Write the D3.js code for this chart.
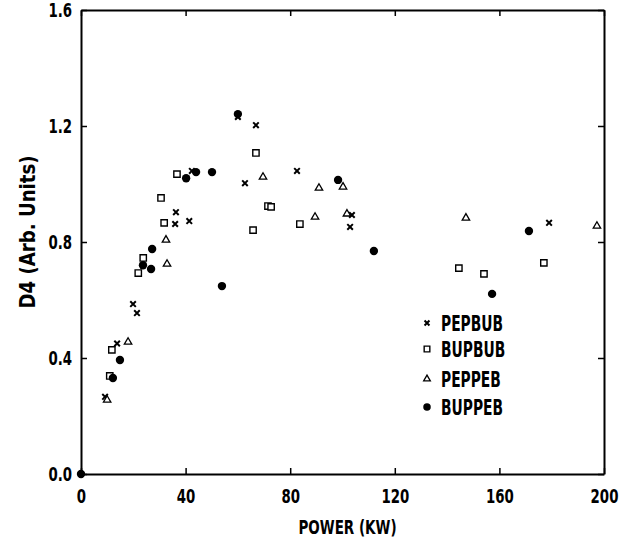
<!DOCTYPE html>
<html>
<head>
<meta charset="utf-8">
<script src="https://cdn.jsdelivr.net/npm/d3@7"></script>
<style>
  body { margin: 0; background: #fff; }
  text { font-family: "DejaVu Sans Condensed", "DejaVu Sans", sans-serif; font-stretch: condensed; font-weight: bold; fill: #000; }
</style>
</head>
<body>
<div id="chart"></div>
<script>
// data: [power (KW), D4]
var pepbub = [[9.2,0.266],[13.8,0.45],[19.9,0.586],[21.4,0.555],[36,0.862],[36.3,0.903],
  [41.4,0.872],[42.4,1.045],[60,1.231],[62.7,1.003],[66.9,1.203],[82.6,1.045],
  [102.9,0.852],[103.6,0.893],[179,0.866]];
var bupbub = [[11,0.338],[11.8,0.428],[21.9,0.693],[23.8,0.745],[30.6,0.952],[31.8,0.866],
  [36.7,1.034],[65.8,0.841],[66.9,1.107],[71.5,0.924],[72.7,0.921],[83.7,0.862],
  [144.5,0.71],[154.1,0.69],[177,0.728]];
var peppeb = [[10,0.255],[18,0.455],[32.5,0.807],[32.9,0.724],[69.6,1.024],[89.5,0.886],
  [91,0.986],[100.2,0.99],[101.7,0.897],[147.2,0.883],[197.3,0.855]];
var buppeb = [[0,0],[12.2,0.331],[14.9,0.393],[23.7,0.72],[26.8,0.707],[27.2,0.776],
  [40.2,1.02],[44,1.041],[50.1,1.041],[53.9,0.648],[60,1.241],[98.3,1.014],
  [112,0.769],[157.2,0.621],[171.3,0.838]];

var xTicks = [0, 40, 80, 120, 160, 200];
var yTicks = [0, 0.4, 0.8, 1.2, 1.6];
var seriesNames = ['PEPBUB', 'BUPBUB', 'PEPPEB', 'BUPPEB'];

var margin = {top: 10, right: 18, bottom: 67, left: 81},
    width = 622 - margin.left - margin.right,
    height = 541 - margin.top - margin.bottom;

var x = d3.scaleLinear().domain([0, 200]).range([0, width]);
var y = d3.scaleLinear().domain([0, 1.6]).range([height, 0]);

var svg = d3.select('#chart')
  .append('svg')
    .attr('width', 622)
    .attr('height', 541)
  .append('g')
    .attr('transform', 'translate(' + margin.left + ',' + margin.top + ')');

// marker style per series
var styles = [
  {type: d3.symbolTimes, size: 22, fill: 'none', stroke: '#000', sw: 2},
  {type: d3.symbolSquare, size: 40, fill: '#fff', stroke: '#000', sw: 1.4},
  {type: d3.symbolTriangle, size: 24, fill: '#fff', stroke: '#000', sw: 1.3},
  {type: d3.symbolCircle, size: 55, fill: '#000', stroke: 'none', sw: 0}
];
var allSeries = [pepbub, bupbub, peppeb, buppeb];

// squeeze a text horizontally around its anchor point, to mimic the narrow bold lettering
function narrow(sel, k) {
  sel.each(function() {
    var t = d3.select(this);
    var tx = +t.attr('x') || 0;
    t.attr('transform', (t.attr('transform') || '') + ' translate(' + tx + ',0) scale(' + k + ',1) translate(' + (-tx) + ',0)');
  });
}

// axes: ticks point inward on all four sides
function styleAxis(g) {
  g.select('.domain').attr('stroke-width', 2);
  g.selectAll('.tick line').attr('stroke-width', 1.5);
  g.selectAll('.tick text').style('font-size', '19px')
    .style('font-family', '"DejaVu Sans", sans-serif')
    .style('font-weight', 'bold')
    .call(narrow, 0.78);
}

svg.append('g')
  .attr('transform', 'translate(0,' + height + ')')
  .call(d3.axisBottom(x).tickValues(xTicks).tickSizeInner(-6).tickSizeOuter(0).tickPadding(16)
    .tickFormat(d3.format('d')))
  .call(styleAxis);

svg.append('g')
  .call(d3.axisTop(x).tickValues(xTicks).tickSizeInner(-6).tickSizeOuter(0).tickFormat(''))
  .call(styleAxis);

svg.append('g')
  .call(d3.axisLeft(y).tickValues(yTicks).tickSizeInner(-6).tickSizeOuter(0).tickPadding(9)
    .tickFormat(d3.format('.1f')))
  .call(styleAxis);

svg.append('g')
  .attr('transform', 'translate(' + width + ',0)')
  .call(d3.axisRight(y).tickValues(yTicks).tickSizeInner(-6).tickSizeOuter(0).tickFormat(''))
  .call(styleAxis);

// points
allSeries.forEach(function(data, i) {
  var s = styles[i];
  svg.selectAll('.pt' + i)
      .data(data)
    .enter().append('path')
      .attr('class', 'pt' + i)
      .attr('transform', function(d) { return 'translate(' + x(d[0]) + ',' + y(d[1]) + ')'; })
      .attr('d', d3.symbol().type(s.type).size(s.size))
      .attr('fill', s.fill)
      .attr('stroke', s.stroke)
      .attr('stroke-width', s.sw);
});

// legend
var legend = svg.append('g').attr('transform', 'translate(346,313)');
var rowY = [0, 26, 56, 84];
seriesNames.forEach(function(name, i) {
  var s = styles[i];
  var row = legend.append('g').attr('transform', 'translate(0,' + rowY[i] + ')');
  row.append('path')
    .attr('d', d3.symbol().type(s.type).size(s.size * 0.8))
    .attr('fill', s.fill)
    .attr('stroke', s.stroke)
    .attr('stroke-width', s.sw);
  row.append('text')
    .attr('x', 14)
    .attr('dy', '0.36em')
    .style('font-size', '22px')
    .text(name)
    .call(narrow, 0.7);
});

// axis titles
svg.append('text')
  .attr('x', width / 2 + 5)
  .attr('y', height + 60)
  .attr('text-anchor', 'middle')
  .style('font-size', '20px')
  .text('POWER (KW)')
  .call(narrow, 0.75);

svg.append('text')
  .attr('transform', 'rotate(-90)')
  .attr('x', -(height / 2) + 10)
  .attr('y', -46)
  .attr('text-anchor', 'middle')
  .style('font-size', '21px')
  .text('D4 (Arb. Units)')
  .call(narrow, 0.96);
</script>
</body>
</html>
